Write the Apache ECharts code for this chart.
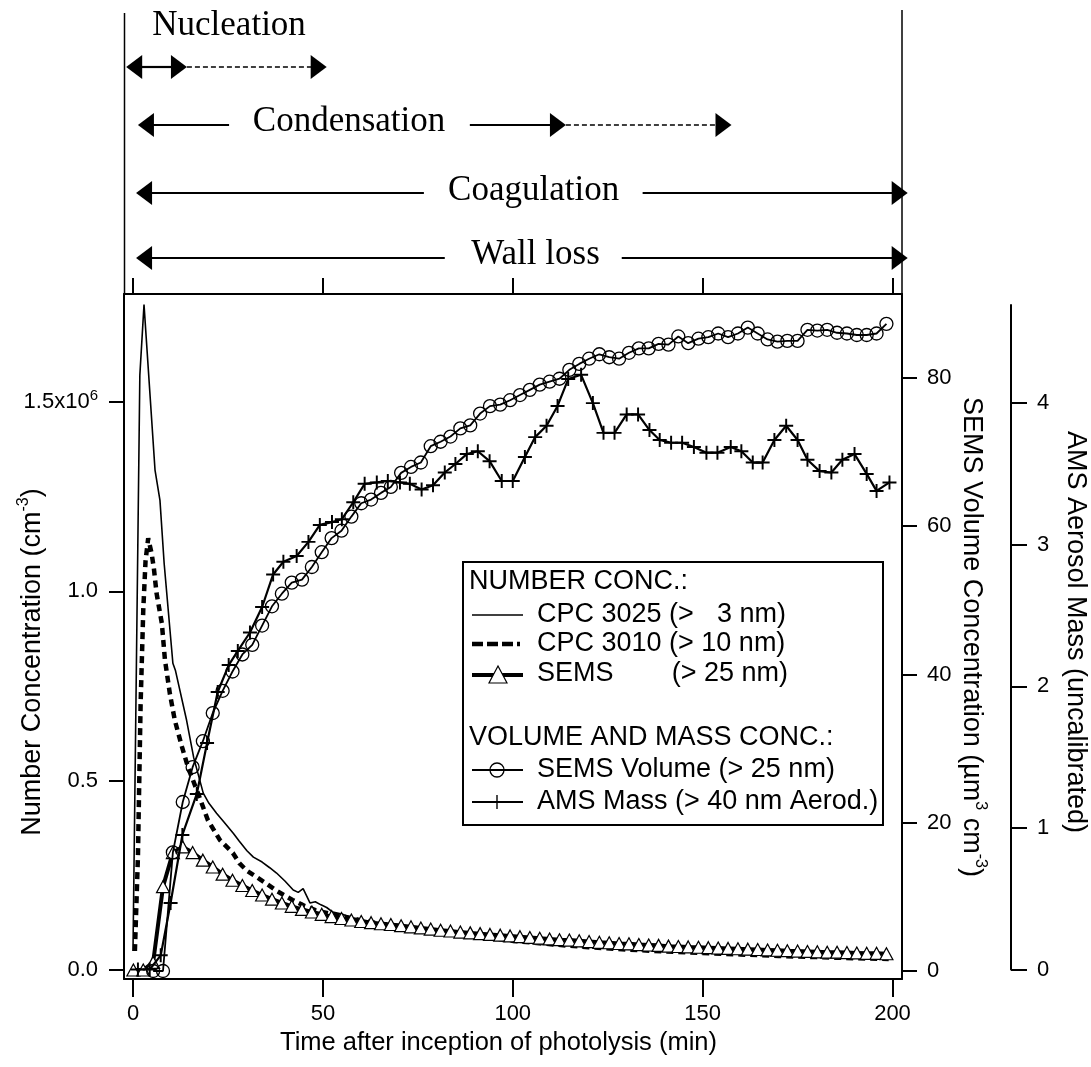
<!DOCTYPE html>
<html><head><meta charset="utf-8">
<script src="https://cdn.jsdelivr.net/npm/echarts@6/dist/echarts.min.js"></script>
<style>html,body{margin:0;padding:0;background:#fff}#c{width:1091px;height:1067px}</style>
</head><body><div id="c"></div>
<script>
// ---------------- DATA ----------------
const xTicks = [0, 50, 100, 150, 200];
const numTicks = [0, 0.5, 1.0, 1.5];
const numTickLabels = ['0.0', '0.5', '1.0', '1.5x10{sup|6}'];
const volTicks = [0, 20, 40, 60, 80];
const amsTicks = [0, 1, 2, 3, 4];

// CPC 3025 (> 3 nm), number conc. in 10^6 cm^-3
const cpc3025T = [0, 1.8, 2.9, 5.8, 7.1, 8.2, 10.5, 11.2, 14.1, 16, 18.5, 20, 22, 24, 26.4, 28, 30, 31.7, 34, 36, 37.8, 40, 42.2, 43.5, 44.8, 46.6, 48, 49.5, 51, 52.6, 55, 57, 60, 63, 66, 70, 75, 80, 85, 90, 95, 100, 105, 110, 113, 115.5, 118, 125, 130, 140, 150, 160, 170, 180, 190, 199];
const cpc3025V = [0.05, 1.57, 1.757, 1.32, 1.24, 1.074, 0.81, 0.79, 0.66, 0.56, 0.467, 0.44, 0.414, 0.39, 0.361, 0.34, 0.315, 0.298, 0.285, 0.27, 0.256, 0.235, 0.211, 0.205, 0.215, 0.177, 0.18, 0.172, 0.165, 0.153, 0.148, 0.14, 0.133, 0.127, 0.122, 0.116, 0.108, 0.1, 0.093, 0.087, 0.081, 0.075, 0.071, 0.067, 0.064, 0.075, 0.062, 0.058, 0.055, 0.05, 0.046, 0.042, 0.038, 0.035, 0.032, 0.03];

// CPC 3010 (> 10 nm)
const cpc3010T = [0.5, 1.3, 2.0, 2.7, 3.3, 4.0, 4.9, 5.5, 6.2, 7.6, 8.4, 9.7, 11.0, 12.9, 14.5, 17.1, 19.7, 22.9, 26.3, 28, 30, 35, 38, 42, 45, 48, 52, 57, 60, 65, 70, 80, 90, 100, 110, 120, 130, 140, 150, 160, 170, 180, 190, 199];
const cpc3010V = [0.05, 0.3, 0.7, 0.95, 1.08, 1.14, 1.10, 1.06, 0.995, 0.915, 0.82, 0.73, 0.66, 0.589, 0.535, 0.467, 0.396, 0.343, 0.309, 0.282, 0.262, 0.229, 0.208, 0.185, 0.17, 0.158, 0.148, 0.138, 0.131, 0.123, 0.116, 0.1, 0.088, 0.077, 0.068, 0.06, 0.054, 0.049, 0.045, 0.041, 0.037, 0.034, 0.031, 0.029];

// SEMS scan times (min)
const semsT = [0.1, 2.7, 5.3, 7.9, 10.5, 13.1, 15.7, 18.4, 21.0, 23.6, 26.2, 28.8, 31.4, 34.0, 36.6, 39.2, 41.8, 44.5, 47.1, 49.7, 52.3, 54.9, 57.5, 60.1, 62.7, 65.3, 67.9, 70.6, 73.2, 75.8, 78.4, 81.0, 83.6, 86.2, 88.8, 91.4, 94.0, 96.7, 99.3, 101.9, 104.5, 107.1, 109.7, 112.3, 114.9, 117.5, 120.1, 122.8, 125.4, 128.0, 130.6, 133.2, 135.8, 138.4, 141.0, 143.6, 146.2, 148.9, 151.5, 154.1, 156.7, 159.3, 161.9, 164.5, 167.1, 169.7, 172.3, 175.0, 177.6, 180.2, 182.8, 185.4, 188.0, 190.6, 193.2, 195.8, 198.4];
// SEMS number (> 25 nm), 10^6 cm^-3
const semsNum = [0, 0, 0.02, 0.22, 0.31, 0.325, 0.31, 0.29, 0.272, 0.253, 0.237, 0.223, 0.21, 0.198, 0.187, 0.177, 0.168, 0.16, 0.153, 0.147, 0.141, 0.136, 0.132, 0.128, 0.125, 0.122, 0.12, 0.117, 0.114, 0.111, 0.108, 0.105, 0.103, 0.1, 0.098, 0.096, 0.094, 0.092, 0.09, 0.088, 0.086, 0.084, 0.082, 0.08, 0.079, 0.077, 0.075, 0.073, 0.072, 0.07, 0.069, 0.067, 0.066, 0.065, 0.063, 0.062, 0.061, 0.06, 0.059, 0.058, 0.057, 0.056, 0.055, 0.054, 0.053, 0.052, 0.051, 0.05, 0.049, 0.048, 0.047, 0.047, 0.046, 0.045, 0.044, 0.044, 0.043];
// SEMS volume (> 25 nm), um^3 cm^-3
const semsVol = [null, null, 0, 0, 16, 22.8, 27.5, 31, 34.8, 37.8, 40.4, 42.7, 44.0, 46.6, 49.2, 50.9, 52.4, 52.8, 54.5, 56.5, 58.4, 59.4, 61.3, 63.1, 63.6, 64.5, 65.3, 67.2, 68.0, 68.6, 70.8, 71.4, 72.1, 73.2, 73.6, 75.2, 76.2, 76.4, 77.0, 77.7, 78.4, 79.1, 79.5, 79.9, 81.1, 81.9, 82.6, 83.2, 82.8, 82.6, 83.4, 84.0, 84.0, 84.6, 84.5, 85.6, 84.7, 85.3, 85.5, 86.0, 85.5, 86.0, 86.8, 86.0, 85.2, 84.9, 85.0, 85.0, 86.5, 86.4, 86.5, 86.1, 86.0, 85.8, 85.8, 86.0, 87.3];

// AMS mass (> 40 nm aerod.), uncalibrated
const amsT = [1.3, 4.4, 7.3, 9.9, 13.0, 16.8, 19.5, 22.3, 25.2, 27.6, 30.8, 34.0, 36.9, 39.6, 43.1, 46.2, 49.2, 52.4, 55.0, 58.0, 61.0, 64.2, 67.1, 70.3, 72.9, 76.0, 79.0, 82.1, 84.9, 87.9, 90.8, 93.9, 97.1, 100.0, 103.2, 105.9, 108.9, 111.8, 114.6, 118.0, 121.1, 123.9, 126.8, 130.0, 133.0, 136.0, 138.7, 141.7, 144.6, 147.7, 151.0, 153.9, 157.4, 160.2, 163.2, 165.8, 168.9, 172.0, 175.0, 177.6, 180.8, 183.9, 186.8, 190.0, 193.2, 195.8, 199.2];
const amsV = [0, 0, 0.1, 0.47, 0.95, 1.24, 1.6, 1.96, 2.15, 2.25, 2.38, 2.56, 2.79, 2.88, 2.92, 3.02, 3.14, 3.16, 3.18, 3.30, 3.43, 3.44, 3.45, 3.44, 3.43, 3.39, 3.42, 3.51, 3.57, 3.64, 3.66, 3.59, 3.45, 3.45, 3.62, 3.76, 3.84, 3.98, 4.17, 4.20, 4.00, 3.79, 3.79, 3.92, 3.92, 3.81, 3.74, 3.72, 3.72, 3.69, 3.65, 3.65, 3.69, 3.66, 3.58, 3.58, 3.74, 3.84, 3.74, 3.60, 3.52, 3.51, 3.60, 3.64, 3.50, 3.38, 3.44];

// Process phases (time spans in min): [start, end, row, headAtStart, headAtEnd, dashed]
const phaseArrows = [
  [-1.8, 14.2, 0, 1, 1, 0],
  [14.2, 51.0, 0, 0, 1, 1],
  [1.3, 25.3, 1, 1, 0, 0],
  [88.7, 114.0, 1, 0, 1, 0],
  [114.0, 157.6, 1, 0, 1, 1],
  [0.8, 76.6, 2, 1, 0, 0],
  [134.2, 204.0, 2, 0, 1, 0],
  [0.8, 82.1, 3, 1, 0, 0],
  [128.7, 204.0, 3, 0, 1, 0]
];
const phaseNames = ['Nucleation', 'Condensation', 'Coagulation', 'Wall loss'];
const phaseNameT = [25.3, 56.9, 105.5, 106.0];

// ---------------- LAYOUT ----------------
const FONT = '"Liberation Sans", Arial, sans-serif';
const SERIF = '"Liberation Serif", "Times New Roman", serif';
const phaseRowY = [67, 125, 193, 258];
const phaseNameY = [26, 122, 191, 255];
const X_MIN = -2.37, X_MAX = 202.5;
const BLACK = '#000';
const LEG_FS = 27, TITLE_FS = 27;

function pairs(t, v) {
  const out = [];
  for (let i = 0; i < t.length; i++) if (v[i] !== null && v[i] !== undefined) out.push([t[i], v[i]]);
  return out;
}
function near(arr, v) { for (let i = 0; i < arr.length; i++) if (Math.abs(arr[i] - v) < 1e-9) return i; return -1; }

const axisLineStyle = { color: BLACK, width: 2 };
const PLUS = 'path://M4.3,0H5.7V4.3H10V5.7H5.7V10H4.3V5.7H0V4.3H4.3Z';

const chart = echarts.init(document.getElementById('c'), null, { renderer: 'canvas' });

function renderArrow(params, api) {
  const d = phaseArrows[params.dataIndex];
  const y = phaseRowY[d[2]];
  const a = api.coord([d[0], y]), b = api.coord([d[1], y]);
  const HL = 16, HW = 12;
  const x1 = d[3] ? a[0] + HL - 1 : a[0];
  const x2 = d[4] ? b[0] - HL + 1 : b[0];
  const st = { stroke: BLACK, lineWidth: d[5] ? 1.5 : 2.2 };
  if (d[5]) st.lineDash = [5, 3];
  const ch = [{ type: 'line', shape: { x1: x1, y1: a[1], x2: x2, y2: a[1] }, style: st }];
  if (d[3]) ch.push({ type: 'polygon', shape: { points: [[a[0], a[1]], [a[0] + HL, a[1] - HW], [a[0] + HL, a[1] + HW]] }, style: { fill: BLACK } });
  if (d[4]) ch.push({ type: 'polygon', shape: { points: [[b[0], b[1]], [b[0] - HL, b[1] - HW], [b[0] - HL, b[1] + HW]] }, style: { fill: BLACK } });
  return { type: 'group', children: ch };
}
function renderPhaseName(params, api) {
  const i = params.dataIndex;
  const p = api.coord([phaseNameT[i], phaseNameY[i]]);
  return { type: 'text', x: p[0], y: p[1], style: { text: phaseNames[i], align: 'center', verticalAlign: 'middle', fontSize: 35, fontFamily: SERIF, fill: BLACK } };
}

const supRich = { sup: { fontSize: 16, verticalAlign: 'top', lineHeight: 16 } };
function legText(x, y, text, align) {
  return { type: 'text', z: 101, x: x, y: y, style: { text: text, fontSize: LEG_FS, fontFamily: FONT, fill: BLACK, verticalAlign: 'middle', align: align || 'left' } };
}

const option = {
  animation: false,
  backgroundColor: '#fff',
  textStyle: { fontFamily: FONT, color: BLACK },
  grid: [
    { left: 124, right: 189, top: 294, bottom: 88 },
    { left: 124, right: 189, top: 305, bottom: 97.5 },
    { left: 124, right: 189, top: 0, height: 294 }
  ],
  xAxis: [
    { gridIndex: 0, type: 'value', position: 'bottom', min: X_MIN, max: X_MAX, splitLine: { show: false },
      axisLine: { show: true, onZero: false, lineStyle: axisLineStyle },
      axisTick: { show: true, customValues: xTicks, length: 18, lineStyle: axisLineStyle },
      axisLabel: { customValues: xTicks, fontSize: 22, color: BLACK, margin: 24, fontFamily: FONT },
      name: 'Time after inception of photolysis (min)', nameLocation: 'middle', nameGap: 50,
      nameTextStyle: { fontSize: 25.5, color: BLACK, fontFamily: FONT, padding: [0, 29, 0, 0] } },
    { gridIndex: 0, type: 'value', position: 'top', min: X_MIN, max: X_MAX, splitLine: { show: false },
      axisLine: { show: true, onZero: false, lineStyle: axisLineStyle },
      axisTick: { show: true, customValues: xTicks, length: 16, lineStyle: axisLineStyle },
      axisLabel: { show: false } },
    { gridIndex: 1, type: 'value', min: X_MIN, max: X_MAX, show: false },
    { gridIndex: 2, type: 'value', min: X_MIN, max: X_MAX, show: false }
  ],
  yAxis: [
    { gridIndex: 0, type: 'value', position: 'left', min: -0.0238, max: 1.785, splitLine: { show: false },
      axisLine: { show: true, onZero: false, lineStyle: axisLineStyle },
      axisTick: { show: true, customValues: numTicks, length: 15, lineStyle: axisLineStyle },
      axisLabel: { customValues: numTicks, fontSize: 22, color: BLACK, margin: 26, fontFamily: FONT, lineHeight: 28,
        formatter: function (v) { const i = near(numTicks, v); return i >= 0 ? numTickLabels[i] : ''; },
        rich: { sup: { fontSize: 15, verticalAlign: 'top', lineHeight: 15, fontFamily: FONT, color: BLACK } } } },
    { gridIndex: 0, type: 'value', position: 'right', min: -1.08, max: 91.33, splitLine: { show: false },
      axisLine: { show: true, onZero: false, lineStyle: axisLineStyle },
      axisTick: { show: true, customValues: volTicks, length: 15, lineStyle: axisLineStyle },
      axisLabel: { customValues: volTicks, fontSize: 22, color: BLACK, margin: 25, fontFamily: FONT } },
    { gridIndex: 1, type: 'value', position: 'right', offset: 109, min: 0, max: 4.693, splitLine: { show: false },
      axisLine: { show: true, onZero: false, lineStyle: axisLineStyle },
      axisTick: { show: true, customValues: amsTicks, length: 16, lineStyle: axisLineStyle },
      axisLabel: { customValues: amsTicks, fontSize: 22, color: BLACK, margin: 26, fontFamily: FONT } },
    { gridIndex: 2, type: 'value', min: 0, max: 294, inverse: true, show: false }
  ],
  series: [
    { type: 'line', name: 'CPC 3025 (> 3 nm)', xAxisIndex: 0, yAxisIndex: 0, data: pairs(cpc3025T, cpc3025V),
      symbol: 'none', lineStyle: { color: BLACK, width: 1.6 }, emphasis: { disabled: true }, z: 3 },
    { type: 'line', name: 'CPC 3010 (> 10 nm)', xAxisIndex: 0, yAxisIndex: 0, data: pairs(cpc3010T, cpc3010V),
      symbol: 'none', lineStyle: { color: BLACK, width: 4.5, type: [7, 5], cap: 'butt' }, emphasis: { disabled: true }, z: 3 },
    { type: 'line', name: 'SEMS (> 25 nm)', xAxisIndex: 0, yAxisIndex: 0, data: pairs(semsT, semsNum),
      symbol: 'triangle', symbolSize: [13, 12], showAllSymbol: true,
      itemStyle: { color: '#fff', borderColor: BLACK, borderWidth: 1.2 },
      lineStyle: { color: BLACK, width: 4 }, emphasis: { disabled: true }, z: 4 },
    { type: 'line', name: 'SEMS Volume (> 25 nm)', xAxisIndex: 0, yAxisIndex: 1, data: pairs(semsT, semsVol),
      symbol: 'circle', symbolSize: 13, showAllSymbol: true,
      itemStyle: { color: 'rgba(255,255,255,0)', borderColor: BLACK, borderWidth: 1.3 },
      lineStyle: { color: BLACK, width: 1.8 }, emphasis: { disabled: true }, z: 5 },
    { type: 'line', name: 'AMS Mass (> 40 nm Aerod.)', xAxisIndex: 2, yAxisIndex: 2, data: pairs(amsT, amsV),
      symbol: PLUS, symbolSize: 14, showAllSymbol: true,
      itemStyle: { color: BLACK }, lineStyle: { color: BLACK, width: 2.2 }, emphasis: { disabled: true }, z: 5 },
    { type: 'custom', name: 'phases', xAxisIndex: 3, yAxisIndex: 3, renderItem: renderArrow,
      data: phaseArrows.map(d => [d[0], phaseRowY[d[2]]]), encode: { x: 0, y: 1 }, clip: false, silent: true },
    { type: 'custom', name: 'phaseNames', xAxisIndex: 3, yAxisIndex: 3, renderItem: renderPhaseName,
      data: phaseNameT.map((t, i) => [t, phaseNameY[i]]), encode: { x: 0, y: 1 }, clip: false, silent: true }
  ],
  graphic: { elements: [
    // top panel side lines
    { type: 'line', z: 100, shape: { x1: 124.5, y1: 13, x2: 124.5, y2: 294 }, style: { stroke: BLACK, lineWidth: 1.5 } },
    { type: 'line', z: 100, shape: { x1: 902, y1: 10, x2: 902, y2: 294 }, style: { stroke: BLACK, lineWidth: 1.5 } },
    // axis titles
    { type: 'text', z: 100, x: 33, y: 662, rotation: Math.PI / 2,
      style: { text: 'Number Concentration (cm{sup|-3})', fontSize: TITLE_FS, fontFamily: FONT, fill: BLACK, align: 'center', verticalAlign: 'middle', lineHeight: 34, rich: supRich } },
    { type: 'text', z: 100, x: 971, y: 637, rotation: -Math.PI / 2,
      style: { text: 'SEMS Volume Concentration (µm{sup|3} cm{sup|-3})', fontSize: TITLE_FS, fontFamily: FONT, fill: BLACK, align: 'center', verticalAlign: 'middle', lineHeight: 34, rich: supRich } },
    { type: 'text', z: 100, x: 1075, y: 632, rotation: -Math.PI / 2,
      style: { text: 'AMS Aerosol Mass (uncalibrated)', fontSize: TITLE_FS, fontFamily: FONT, fill: BLACK, align: 'center', verticalAlign: 'middle' } },
    // legend box
    { type: 'rect', z: 100, shape: { x: 463, y: 562, width: 420, height: 263 }, style: { fill: '#fff', stroke: BLACK, lineWidth: 2 } },
    legText(469, 582, 'NUMBER CONC.:'),
    { type: 'line', z: 101, shape: { x1: 472, y1: 615, x2: 523, y2: 615 }, style: { stroke: BLACK, lineWidth: 1.6 } },
    legText(537, 615, 'CPC 3025 (>'),
    legText(786, 615, '3 nm)', 'right'),
    { type: 'line', z: 101, shape: { x1: 472, y1: 644, x2: 520, y2: 644 }, style: { stroke: BLACK, lineWidth: 4.5, lineDash: [11, 4] } },
    legText(537, 644, 'CPC 3010 (> 10 nm)'),
    { type: 'line', z: 101, shape: { x1: 472, y1: 675, x2: 523, y2: 675 }, style: { stroke: BLACK, lineWidth: 4 } },
    { type: 'polygon', z: 102, shape: { points: [[498, 666], [489, 683], [507, 683]] }, style: { fill: '#fff', stroke: BLACK, lineWidth: 1.2 } },
    legText(537, 674, 'SEMS'),
    legText(788, 674, '(> 25 nm)', 'right'),
    legText(469, 738, 'VOLUME AND MASS CONC.:'),
    { type: 'line', z: 101, shape: { x1: 472, y1: 770, x2: 523, y2: 770 }, style: { stroke: BLACK, lineWidth: 1.8 } },
    { type: 'circle', z: 102, shape: { cx: 497, cy: 770, r: 7 }, style: { fill: 'none', stroke: BLACK, lineWidth: 1.3 } },
    legText(537, 770, 'SEMS Volume (> 25 nm)'),
    { type: 'line', z: 101, shape: { x1: 472, y1: 802, x2: 523, y2: 802 }, style: { stroke: BLACK, lineWidth: 2.2 } },
    { type: 'line', z: 102, shape: { x1: 490, y1: 802, x2: 504, y2: 802 }, style: { stroke: BLACK, lineWidth: 1.4 } },
    { type: 'line', z: 102, shape: { x1: 497, y1: 795, x2: 497, y2: 809 }, style: { stroke: BLACK, lineWidth: 1.4 } },
    legText(537, 802, 'AMS Mass (> 40 nm Aerod.)')
  ] }
};
chart.setOption(option);
</script>
</body></html>
